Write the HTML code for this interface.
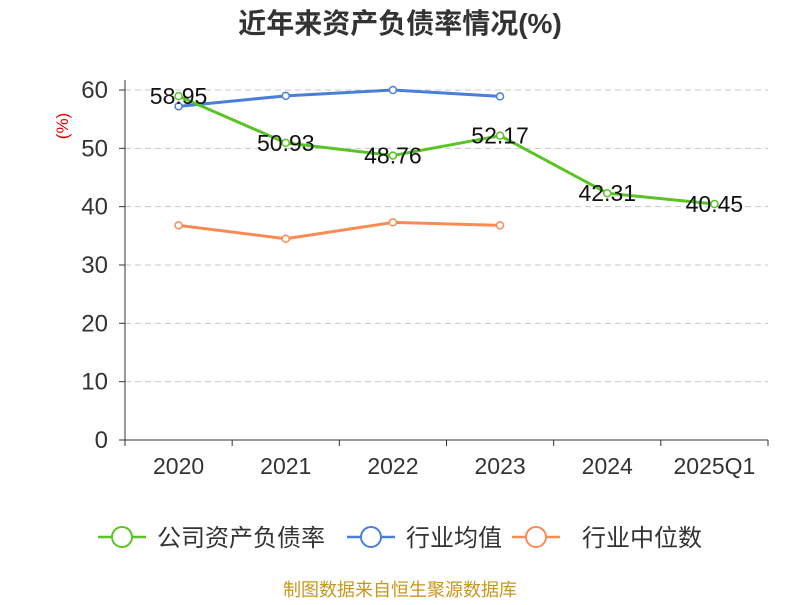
<!DOCTYPE html>
<html><head><meta charset="utf-8"><style>
body{margin:0;background:#fff;font-family:"Liberation Sans","Noto Sans CJK SC",sans-serif}
</style></head><body>
<svg id="c" width="800" height="600" xmlns="http://www.w3.org/2000/svg" font-family="Liberation Sans, Noto Sans CJK SC, sans-serif">
<text x="400" y="33" text-anchor="middle" font-size="28" font-weight="bold" fill="#333">近年来资产负债率情况(%)</text>
<text transform="translate(68,126) rotate(-90)" text-anchor="middle" font-size="17" fill="#e00">(%)</text>
<g id="grid"></g><g id="axes"></g><g id="series"></g>
<g>
<g><line x1="98" y1="537" x2="146" y2="537" stroke="#5ac427" stroke-width="2.5"/><circle cx="122" cy="537" r="10" fill="#fff" stroke="#5ac427" stroke-width="2"/><text x="157" y="546" font-size="24" fill="#333">公司资产负债率</text></g>
<g><line x1="347" y1="537" x2="395" y2="537" stroke="#4a7fd9" stroke-width="2.5"/><circle cx="371" cy="537" r="10" fill="#fff" stroke="#4a7fd9" stroke-width="2"/><text x="406" y="546" font-size="24" fill="#333">行业均值</text></g>
<g><line x1="512" y1="537" x2="560" y2="537" stroke="#f98c55" stroke-width="2.5"/><circle cx="536" cy="537" r="10" fill="#fff" stroke="#f98c55" stroke-width="2"/><text x="582" y="546" font-size="24" fill="#333">行业中位数</text></g>
</g>
<text x="400" y="596" text-anchor="middle" font-size="18" fill="#c8961e">制图数据来自恒生聚源数据库</text>
</svg>
<script>
const categories=["2020","2021","2022","2023","2024","2025Q1"];
const companyValues=[58.95,50.93,48.76,52.17,42.31,40.45];
const avgValues=[57.2,59.0,60.0,58.9];
const medianValues=[36.8,34.5,37.3,36.8];
const yTicks=[0,10,20,30,40,50,60];
const NS="http://www.w3.org/2000/svg";
const L=125,R=768,T=90,B=440,yMax=60;
const bw=(R-L)/categories.length;
const x=i=>L+bw*(i+0.5);
const y=v=>B-(v/yMax)*(B-T);
function el(t,a,p){const e=document.createElementNS(NS,t);for(const k in a)e.setAttribute(k,a[k]);document.getElementById(p).appendChild(e);return e;}
yTicks.forEach(v=>{
 if(v>0){const g=el('line',{x1:L,x2:R,y1:y(v),y2:y(v),stroke:'#c8c8c8','stroke-dasharray':'6,4'},'grid');
 
 }
 const t=el('text',{x:L-17,y:y(v)+8,'text-anchor':'end','font-size':24,fill:'#333'},'axes');t.textContent=v;
 
 
 const tk=el('line',{x1:L-6,x2:L,y1:y(v),y2:y(v),stroke:'#333'},'axes');
 
 
});
const ya=el('line',{x1:L,x2:L,y1:T-10,y2:B,stroke:'#333'},'axes');


const xa=el('line',{x1:L,x2:R,y1:B,y2:B,stroke:'#333'},'axes');


categories.forEach((c,i)=>{
 const tk=el('line',{x1:L+bw*i,x2:L+bw*i,y1:B,y2:B+6,stroke:'#333'},'axes');
 
 
 const t=el('text',{x:x(i),y:B+34,'text-anchor':'middle','font-size':23,fill:'#333'},'axes');t.textContent=c;
 
 
});
const rt=el('line',{x1:R,x2:R,y1:B,y2:B+6,stroke:'#333'},'axes');


function series(vals,color,name,labels){
 const p=el('polyline',{points:vals.map((v,i)=>x(i)+','+y(v)).join(' '),fill:'none',stroke:color,'stroke-width':3,'stroke-linejoin':'round'},'series');
 
 
 vals.forEach((v,i)=>{
  const c=el('circle',{cx:x(i),cy:y(v),r:3.5,fill:'#fff',stroke:color,'stroke-width':1.5},'series');
  
  
  if(labels){const t=el('text',{x:x(i),y:y(v)+8,'text-anchor':'middle','font-size':23,fill:'#111'},'series');t.textContent=v.toFixed(2);
  
  }
 });
}
series(medianValues,'#f98c55','industry-median',false);
series(avgValues,'#4a7fd9','industry-average',false);
series(companyValues,'#5ac427','company',true);
</script>
</body></html>
